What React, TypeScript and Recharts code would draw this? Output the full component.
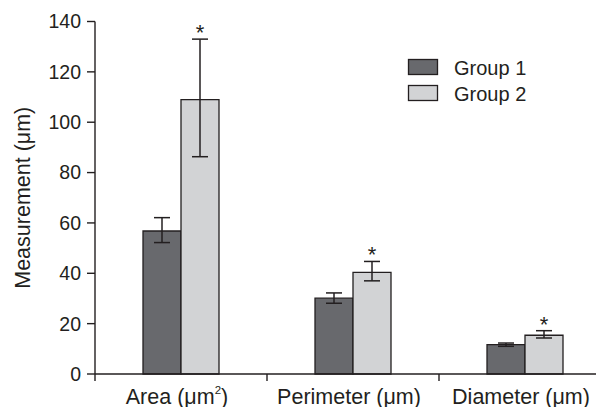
import React from 'react';
import { BarChart, Bar, XAxis, YAxis, ErrorBar, Legend, LabelList } from 'recharts';

const categories = ['Area', 'Perimeter', 'Diameter'];
const xTickLabels: string[][] = [['Area (μm', '2', ')'], ['Perimeter (μm)'], ['Diameter (μm)']];
const group1Values = [56.8, 30.1, 11.7];
const group1Lower = [52.2, 28.1, 11.0];
const group1Upper = [62.1, 32.2, 12.3];
const group2Values = [109, 40.4, 15.4];
const group2Lower = [86.3, 37.0, 14.3];
const group2Upper = [133, 44.7, 17.2];
const group2Significant = [true, true, true];
const yTicks = [0, 20, 40, 60, 80, 100, 120, 140];
const seriesNames = ['Group 1', 'Group 2'];

const data = categories.map((c, i) => ({
  name: c,
  g1: group1Values[i],
  g1Err: [group1Values[i] - group1Lower[i], group1Upper[i] - group1Values[i]],
  g2: group2Values[i],
  g2Err: [group2Values[i] - group2Lower[i], group2Upper[i] - group2Values[i]],
}));

const INK = '#231f20';
const DARK = '#68696d';
const LIGHT = '#d2d3d5';
const FONT = '"Liberation Sans", Arial, Helvetica, sans-serif';

const CHART_W = 620;
const CHART_H = 399;
const MARGIN = { top: 13.5, right: 17, bottom: 0, left: 0 };
const YAXIS_W = 87;
const XAXIS_H = 33;
const BAND = (CHART_W - MARGIN.left - MARGIN.right - YAXIS_W) / categories.length;

const XTick = (props: any) => {
  const { x, y, payload } = props;
  const idx = categories.indexOf(payload.value);
  const parts = xTickLabels[idx] || [String(payload.value)];
  const half = BAND / 2;
  return (
    <g>
      <line x1={x - half} x2={x - half} y1={y} y2={y + 7} stroke={INK} strokeWidth={1.4} />
      <text x={x - 4} y={y + 29.5} textAnchor="middle" fill={INK} fontSize={21.5} fontFamily={FONT}>
        <tspan>{parts[0]}</tspan>
        {parts[1] ? (
          <tspan dy={-9.5} fontSize={11.5}>
            {parts[1]}
          </tspan>
        ) : null}
        {parts[2] ? <tspan dy={9.5}>{parts[2]}</tspan> : null}
      </text>
    </g>
  );
};

const YLabel = (props: any) => {
  const vb = props.viewBox || { x: 0, y: MARGIN.top, width: YAXIS_W, height: 352.5 };
  const cx = 22;
  const cy = vb.y + vb.height / 2;
  return (
    <text
      x={cx}
      y={cy}
      transform={`rotate(-90, ${cx}, ${cy})`}
      textAnchor="middle"
      fill={INK}
      fontSize={21.5}
      fontFamily={FONT}
    >
      Measurement (μm)
    </text>
  );
};

const Star = (props: any) => {
  const { x, y, width, height, index } = props;
  if (!group2Significant[index]) return null;
  const v = group2Values[index];
  const pxPerUnit = Number(height) / v;
  const errTop = Number(y) - (group2Upper[index] - v) * pxPerUnit;
  return (
    <text x={Number(x) + Number(width) / 2} y={errTop + 1} textAnchor="middle" fill={INK} fontSize={22} fontFamily={FONT}>
      *
    </text>
  );
};

const LegendContent = () => (
  <svg width={160} height={70}>
    <rect x={8.5} y={9.5} width={29} height={15} fill={DARK} stroke={INK} strokeWidth={1.3} />
    <rect x={8.5} y={35.5} width={29} height={15} fill={LIGHT} stroke={INK} strokeWidth={1.3} />
    <text x={54} y={25} fill={INK} fontSize={20} fontFamily={FONT}>
      {seriesNames[0]}
    </text>
    <text x={54} y={51} fill={INK} fontSize={20} fontFamily={FONT}>
      {seriesNames[1]}
    </text>
  </svg>
);

export default function App() {
  return (
    <div style={{ width: 596, height: CHART_H, overflow: 'hidden', position: 'relative' }}>
      <BarChart width={CHART_W} height={CHART_H} data={data} margin={MARGIN} barGap={0} barSize={38}>
        <XAxis
          dataKey="name"
          type="category"
          height={XAXIS_H}
          tickSize={0}
          tickMargin={0}
          tickLine={false}
          axisLine={{ stroke: INK, strokeWidth: 1.4 }}
          tick={<XTick />}
          interval={0}
        />
        <YAxis
          type="number"
          domain={[0, 140]}
          ticks={yTicks}
          width={YAXIS_W}
          tickSize={8}
          tickMargin={6}
          axisLine={{ stroke: INK, strokeWidth: 1.4 }}
          tickLine={{ stroke: INK, strokeWidth: 1.4 }}
          tick={{ fill: INK, fontSize: 19.5, fontFamily: FONT }}
          interval={0}
          label={<YLabel />}
        />
        <Legend
          layout="horizontal"
          verticalAlign="middle"
          align="center"
          wrapperStyle={{ left: 392, top: 42, width: 160, height: 70 }}
          content={<LegendContent />}
        />
        <Bar dataKey="g1" name={seriesNames[0]} fill={DARK} stroke={INK} strokeWidth={1.3} isAnimationActive={false}>
          <ErrorBar dataKey="g1Err" width={8} stroke={INK} strokeWidth={1.5} isAnimationActive={false} />
        </Bar>
        <Bar dataKey="g2" name={seriesNames[1]} fill={LIGHT} stroke={INK} strokeWidth={1.3} isAnimationActive={false}>
          <ErrorBar dataKey="g2Err" width={8} stroke={INK} strokeWidth={1.5} isAnimationActive={false} />
          <LabelList dataKey="g2" content={<Star />} />
        </Bar>
      </BarChart>
    </div>
  );
}
